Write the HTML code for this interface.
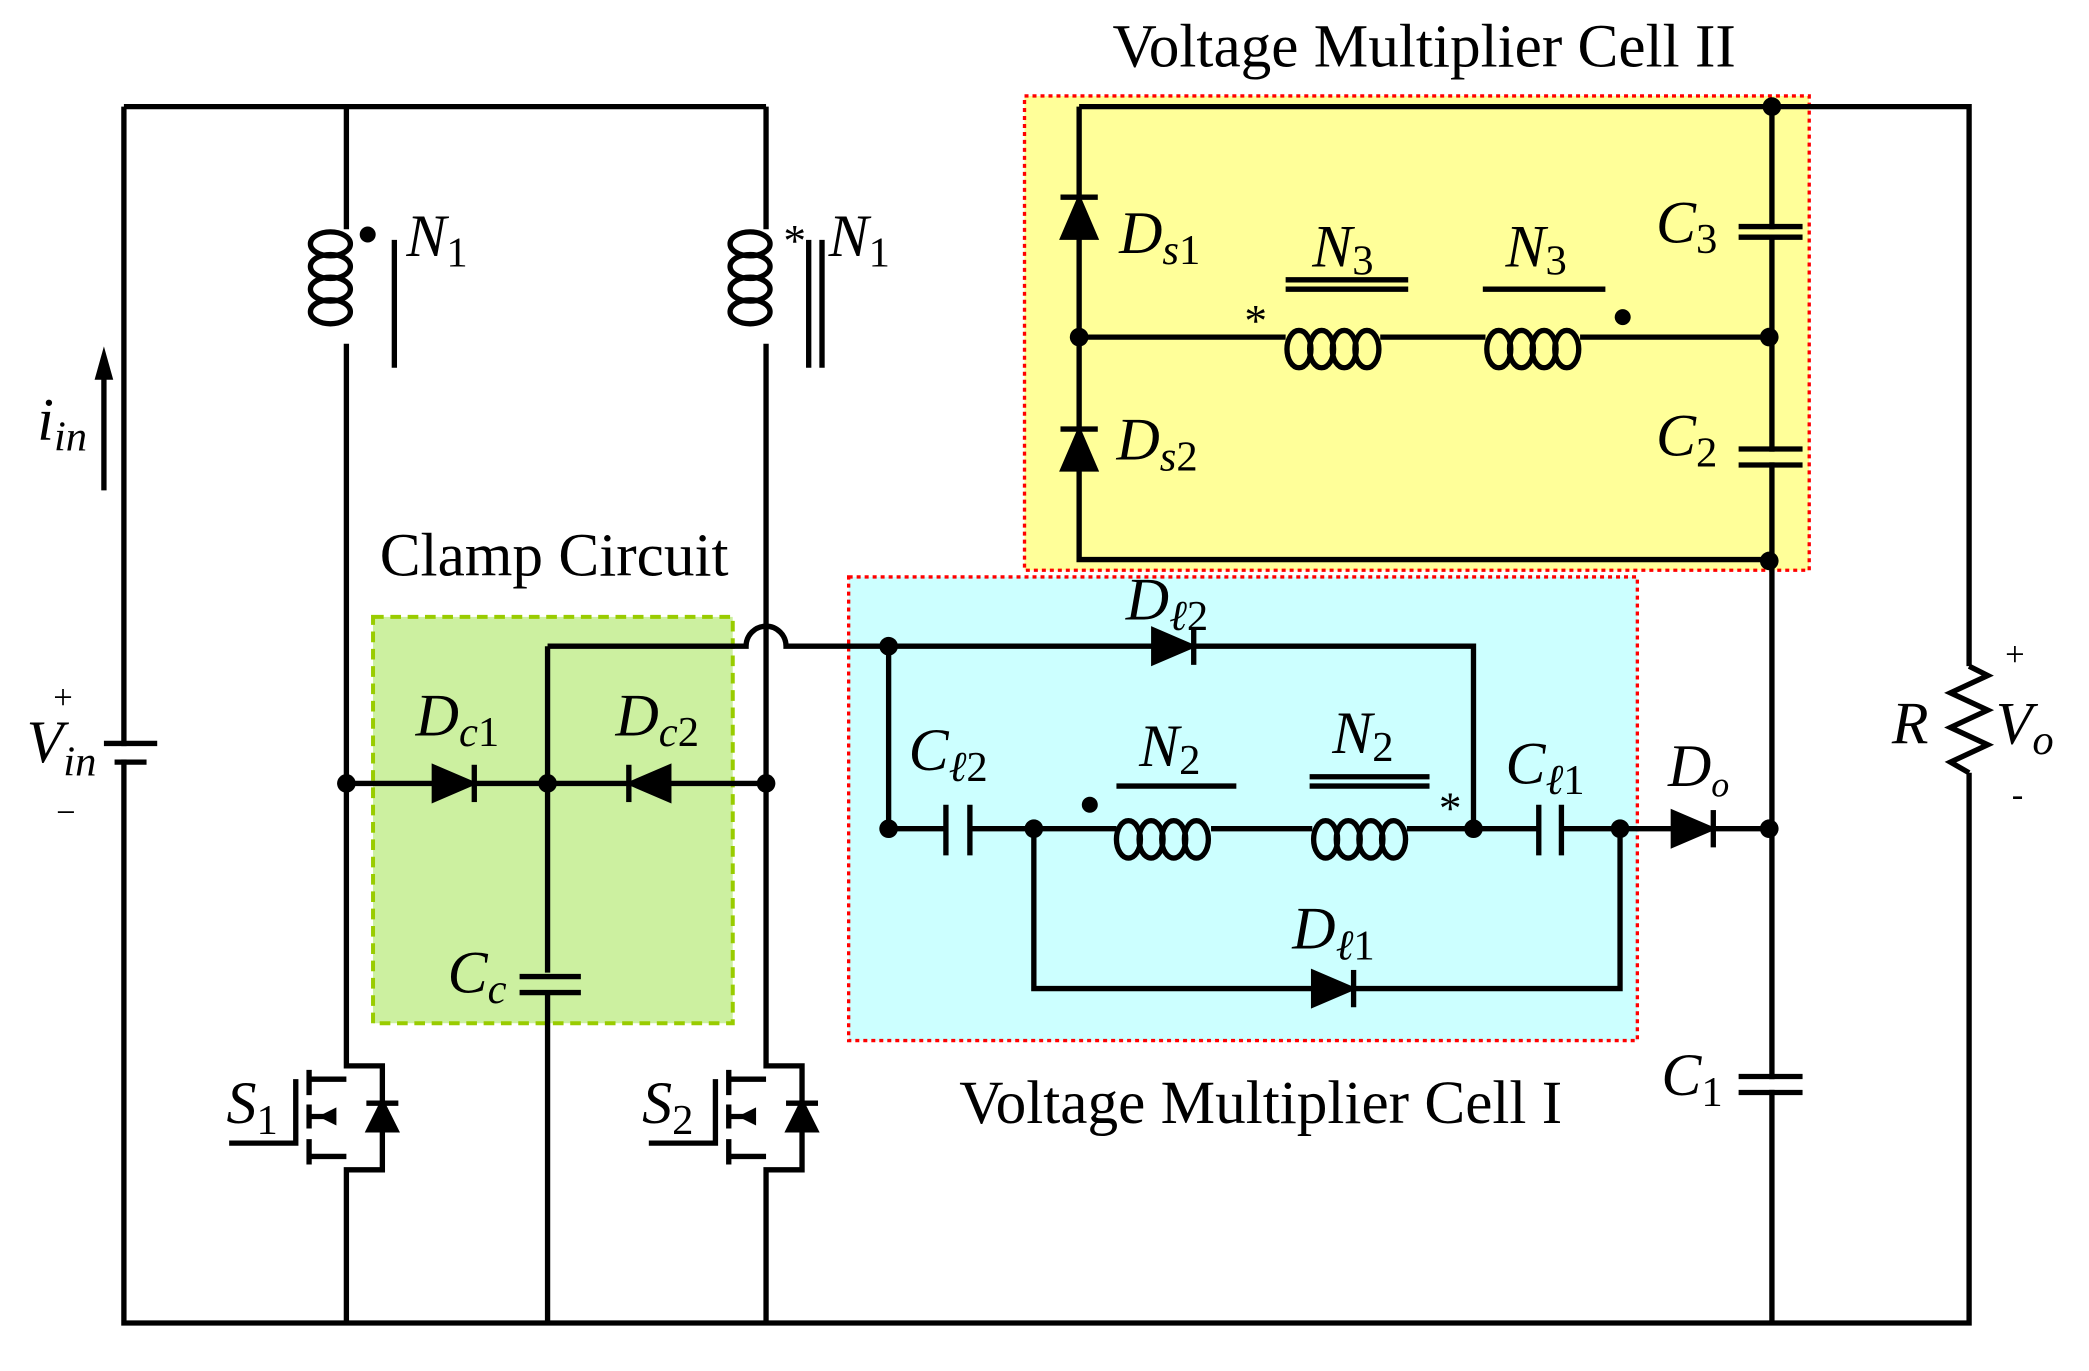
<!DOCTYPE html>
<html><head><meta charset="utf-8"><style>
html,body{margin:0;padding:0;background:#fff}
svg{display:block}
text{font-family:"Liberation Serif",serif;fill:#000}
.i{font-style:italic}
</style></head><body>
<svg width="2089" height="1371" viewBox="0 0 1568 1029" xmlns="http://www.w3.org/2000/svg">
<defs>
<g id="coilv"><ellipse cx="-12" cy="0" rx="15" ry="9" fill="none" stroke="#000" stroke-width="4"/><ellipse cx="-12" cy="17" rx="15" ry="9" fill="none" stroke="#000" stroke-width="4"/><ellipse cx="-12" cy="34" rx="15" ry="9" fill="none" stroke="#000" stroke-width="4"/><ellipse cx="-12" cy="51" rx="15" ry="9" fill="none" stroke="#000" stroke-width="4"/></g>
<g id="coilh"><ellipse cx="0" cy="12" rx="9" ry="14" fill="none" stroke="#000" stroke-width="4"/><ellipse cx="17" cy="12" rx="9" ry="14" fill="none" stroke="#000" stroke-width="4"/><ellipse cx="34" cy="12" rx="9" ry="14" fill="none" stroke="#000" stroke-width="4"/><ellipse cx="51" cy="12" rx="9" ry="14" fill="none" stroke="#000" stroke-width="4"/></g>
</defs>
<rect x="769" y="72" width="589" height="356" fill="#ffff99" stroke="#ff0000" stroke-width="2.5" stroke-dasharray="3,3"/>
<rect x="637" y="433" width="592" height="348" fill="#ccffff" stroke="#ff0000" stroke-width="2.5" stroke-dasharray="3,3"/>
<rect x="280" y="463" width="270" height="305" fill="#ccf0a0" stroke="#99cc00" stroke-width="3" stroke-dasharray="8,5"/>
<g stroke="#000" stroke-width="4" fill="none">
<path d="M93 80H575M1330 80H1478V500M1478 580V993H93V80"/>
<path d="M260 80V172M260 258V800H287V878H260V993"/>
<path d="M232 810H260M232 868H260M232 838H250"/>
<path d="M232 803V822M232 829V847M232 855V874M222 810V860M172 858H222"/>
<path d="M296 180V276"/>
<path d="M575 80V172M575 258V800H602V878H575V993"/>
<path d="M547 810H575M547 868H575M547 838H565"/>
<path d="M547 803V822M547 829V847M547 855V874M537 810V860M487 858H537"/>
<path d="M607 180V276M617 180V276"/>
<path d="M260 588H575M411 485V730M411 745V993"/>
<path d="M411 485H560A15 15 0 0 1 590 485H1106V622"/>
<path d="M667 485V622H710M728 622H838M909 622H985M1056 622H1155M1172 622H1328"/>
<path d="M710 604V642M728 604V642M1155 604V642M1172 604V642"/>
<path d="M776 622V742H1216V622"/>
<path d="M838 590H928M983 583H1073M983 590H1073"/>
<path d="M810 80H1330V993M810 80V420H1330M810 253H965M1036 253H1115M1186 253H1328"/>
<path d="M965 210H1057M965 217H1057M1113 217H1205"/>
<path d="M1478 500L1492 507L1464 520L1492 533L1464 546L1492 559L1464 572L1478 580"/>
<path d="M78 368V280"/>
</g>
<g fill="#ffff99"><rect x="1320" y="172" width="20" height="4"/><rect x="1320" y="339" width="20" height="8"/></g>
<rect x="1320" y="810" width="20" height="8" fill="#fff"/>
<rect x="88" y="560" width="10" height="10" fill="#fff"/>
<rect x="405" y="735" width="12" height="8" fill="#ccf0a0"/>
<g stroke="#000" stroke-width="4"><path d="M1305 170H1353M1305 178H1353M1305 337H1353M1305 349H1353M1305 808H1353M1305 820H1353M390 733H436M390 745H436M78 558H118M86 572H110"/></g>
<polygon points="78,260 71,285 85,285" fill="#000"/>
<g transform="translate(260,183)"><use href="#coilv"/></g>
<g transform="translate(575,183)"><use href="#coilv"/></g>
<g transform="translate(847,618)"><use href="#coilh"/></g>
<g transform="translate(995,618)"><use href="#coilh"/></g>
<g transform="translate(975,250)"><use href="#coilh"/></g>
<g transform="translate(1125,250)"><use href="#coilh"/></g>
<g fill="#000" stroke="#000" stroke-width="4">
<polygon points="326,576 326,600 354,588"/><path d="M356 574V602"/>
<polygon points="502,576 502,600 474,588"/><path d="M472 574V602"/>
<polygon points="866,473 866,497 894,485"/><path d="M896 471V499"/>
<polygon points="986,730 986,754 1014,742"/><path d="M1016 728V756"/>
<polygon points="1256,610 1256,634 1284,622"/><path d="M1286 608V636"/>
<polygon points="798,178 822,178 810,150"/><path d="M796 148H824"/>
<polygon points="798,352 822,352 810,324"/><path d="M796 322H824"/>
<polygon points="277,848 297,848 287,828"/><path d="M275 828H299"/>
<polygon points="592,848 612,848 602,828"/><path d="M590 828H614"/>
<polygon points="240,838 252,832 252,844" stroke-width="1"/>
<polygon points="555,838 567,832 567,844" stroke-width="1"/>
</g>
<g fill="#000">
<circle cx="260" cy="588" r="7"/><circle cx="411" cy="588" r="7"/><circle cx="575" cy="588" r="7"/>
<circle cx="667" cy="485" r="7"/><circle cx="667" cy="622" r="7"/><circle cx="776" cy="622" r="7"/>
<circle cx="1106" cy="622" r="7"/><circle cx="1216" cy="622" r="7"/><circle cx="1328" cy="622" r="7"/>
<circle cx="810" cy="253" r="7"/><circle cx="1328" cy="253" r="7"/><circle cx="1330" cy="80" r="7"/><circle cx="1328" cy="421" r="7"/>
<circle cx="276" cy="176" r="6"/><circle cx="818" cy="604" r="6"/><circle cx="1218" cy="238" r="6"/>
</g>
<g font-size="46">
<text x="835" y="50">Voltage Multiplier Cell II</text>
<text x="285" y="432">Clamp Circuit</text>
<text x="720" y="843">Voltage Multiplier Cell I</text>
</g>
<g font-size="45" class="i">
<text x="305" y="192" class="i">N<tspan font-size="32" font-style="normal" dy="8">1</tspan></text>
<text x="622" y="192" class="i">N<tspan font-size="32" font-style="normal" dy="8">1</tspan></text>
<text x="28" y="330" class="i">i<tspan font-size="32" dy="8">in</tspan></text>
<text x="20" y="572" class="i">V<tspan font-size="32" dy="10">in</tspan></text>
<text x="312" y="552" class="i">D<tspan font-size="32" dy="8">c</tspan><tspan font-size="32" font-style="normal">1</tspan></text>
<text x="462" y="552" class="i">D<tspan font-size="32" dy="8">c</tspan><tspan font-size="32" font-style="normal">2</tspan></text>
<text x="336" y="745" class="i">C<tspan font-size="32" dy="8">c</tspan></text>
<text x="170" y="843" class="i">S<tspan font-size="32" font-style="normal" dy="8">1</tspan></text>
<text x="482" y="843" class="i">S<tspan font-size="32" font-style="normal" dy="8">2</tspan></text>
<text x="845" y="465" class="i">D<tspan font-size="32" dy="8">ℓ</tspan><tspan font-size="32" font-style="normal">2</tspan></text>
<text x="682" y="578" class="i">C<tspan font-size="32" dy="8">ℓ</tspan><tspan font-size="32" font-style="normal">2</tspan></text>
<text x="855" y="575" class="i">N<tspan font-size="32" font-style="normal" dy="6">2</tspan></text>
<text x="1000" y="565" class="i">N<tspan font-size="32" font-style="normal" dy="6">2</tspan></text>
<text x="1130" y="588" class="i">C<tspan font-size="32" dy="8">ℓ</tspan><tspan font-size="32" font-style="normal">1</tspan></text>
<text x="1252" y="590" class="i">D<tspan font-size="27" dy="8">o</tspan></text>
<text x="970" y="712" class="i">D<tspan font-size="32" dy="8">ℓ</tspan><tspan font-size="32" font-style="normal">1</tspan></text>
<text x="840" y="190" class="i">D<tspan font-size="32" dy="8">s</tspan><tspan font-size="32" font-style="normal">1</tspan></text>
<text x="838" y="345" class="i">D<tspan font-size="32" dy="8">s</tspan><tspan font-size="32" font-style="normal">2</tspan></text>
<text x="985" y="200" class="i">N<tspan font-size="32" font-style="normal" dy="6">3</tspan></text>
<text x="1130" y="200" class="i">N<tspan font-size="32" font-style="normal" dy="6">3</tspan></text>
<text x="1243" y="182" class="i">C<tspan font-size="32" font-style="normal" dy="8">3</tspan></text>
<text x="1243" y="342" class="i">C<tspan font-size="32" font-style="normal" dy="8">2</tspan></text>
<text x="1247" y="822" class="i">C<tspan font-size="32" font-style="normal" dy="8">1</tspan></text>
<text x="1420" y="558" class="i">R</text>
<text x="1498" y="558" class="i">V<tspan font-size="32" dy="8">o</tspan></text>
</g>
<g font-size="26">
<text x="40" y="532">+</text><text x="42" y="618">−</text>
<text x="1505" y="500">+</text><text x="1510" y="605">-</text>
</g>
<g font-size="34">
<text x="588" y="192">*</text><text x="934" y="252">*</text><text x="1080" y="618">*</text>
</g>
</svg>
</body></html>
